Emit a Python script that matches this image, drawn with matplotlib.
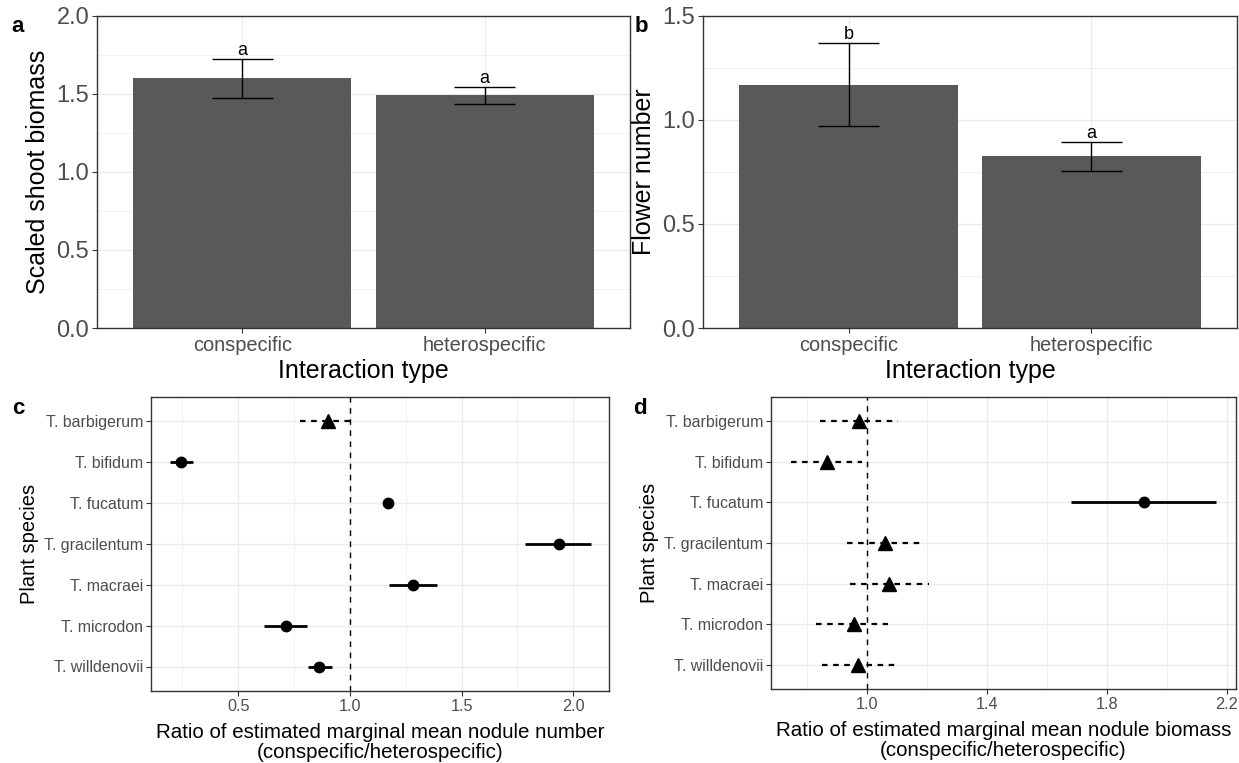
import matplotlib
matplotlib.use("Agg")
import matplotlib.pyplot as plt
import numpy as np

plt.rcParams["font.family"] = ["Liberation Sans", "DejaVu Sans"]

# bar panels (a, b)
interaction = ["conspecific", "heterospecific"]
shoot_mean = [1.60, 1.495]
shoot_lo = [1.472, 1.438]
shoot_hi = [1.726, 1.545]
shoot_letters = ["a", "a"]

flower_mean = [1.170, 0.828]
flower_lo = [0.971, 0.755]
flower_hi = [1.372, 0.896]
flower_letters = ["b", "a"]

# ratio panels (c, d)
species = ["T. barbigerum", "T. bifidum", "T. fucatum", "T. gracilentum",
           "T. macraei", "T. microdon", "T. willdenovii"]

number_ratio = [0.903, 0.243, 1.172, 1.936, 1.282, 0.713, 0.864]
number_lo = [0.775, 0.194, 1.150, 1.786, 1.175, 0.616, 0.813]
number_hi = [1.018, 0.296, 1.192, 2.080, 1.388, 0.807, 0.918]
number_sig = [False, True, True, True, True, True, True]

biomass_ratio = [0.974, 0.866, 1.924, 1.060, 1.074, 0.955, 0.971]
biomass_lo = [0.844, 0.748, 1.681, 0.932, 0.942, 0.829, 0.849]
biomass_hi = [1.103, 0.982, 2.164, 1.189, 1.206, 1.069, 1.092]
biomass_sig = [False, False, True, False, False, False, False]

W, H = 1239, 763
BORDER = "#333333"
TICKTXT = "#4D4D4D"
GRID = "#EBEBEB"

fig = plt.figure(figsize=(W / 100, H / 100), dpi=100)


def px_axes(left, top, right, bottom):
    return fig.add_axes([left / W, 1 - bottom / H, (right - left) / W, (bottom - top) / H])


def style_axes(ax, ytick_size, xtick_size):
    ax.set_axisbelow(True)
    for s in ax.spines.values():
        s.set_color(BORDER)
        s.set_linewidth(1.0)
    ax.tick_params(axis="both", which="major", length=3.5, width=0.8, color=BORDER,
                   labelcolor=TICKTXT, pad=2)
    ax.tick_params(axis="y", labelsize=ytick_size)
    ax.tick_params(axis="x", labelsize=xtick_size)
    ax.tick_params(which="minor", length=0)
    ax.grid(True, which="major", color=GRID, linewidth=1.0)
    ax.grid(True, which="minor", color=GRID, linewidth=0.5)


def bar_panel(ax, means, lo, hi, letters, ymax, ylabel):
    x = np.arange(1, len(means) + 1)
    ax.bar(x, means, width=0.9, color="#595959", zorder=2)
    ax.vlines(x, lo, hi, color="black", linewidth=1.0, zorder=3)
    ax.hlines(lo, x - 0.125, x + 0.125, color="black", linewidth=1.0, zorder=3)
    ax.hlines(hi, x - 0.125, x + 0.125, color="black", linewidth=1.0, zorder=3)
    for xi, h, lab in zip(x, hi, letters):
        ax.text(xi, h, lab, ha="center", va="bottom", fontsize=13, zorder=4)
    ax.set_xlim(0.4, len(means) + 0.6)
    ax.set_ylim(0, ymax)
    ax.set_xticks(x)
    ax.set_xticklabels(interaction)
    ax.set_yticks(np.arange(0, ymax + 0.01, 0.5))
    ax.set_yticks(np.arange(0.25, ymax, 0.5), minor=True)
    style_axes(ax, 17, 14.4)
    ax.set_ylabel(ylabel, fontsize=18, labelpad=5)
    ax.set_xlabel("Interaction type", fontsize=18, labelpad=3)


def ratio_panel(ax, ratio, lo, hi, sig, xlim, major, minor, xlabel):
    y = np.arange(len(species))
    for yi, r, l, h, s in zip(y, ratio, lo, hi, sig):
        if s:
            ax.plot([l, h], [yi, yi], color="black", linewidth=2.0, zorder=3,
                    solid_capstyle="butt")
            ax.plot(r, yi, marker="o", markersize=7.5, color="black", zorder=4)
        else:
            ax.plot([l, h], [yi, yi], color="black", linewidth=1.6, zorder=3,
                    linestyle=(0, (2.5, 2.5)))
            ax.plot(r, yi, marker="^", markersize=10, color="black", zorder=4)
    ax.axvline(1.0, color="black", linewidth=1.0, linestyle=(0, (4, 4)), zorder=2)
    ax.set_xlim(*xlim)
    ax.set_ylim(len(species) - 0.4, -0.6)
    ax.set_yticks(y)
    ax.set_yticklabels(species)
    ax.set_xticks(major)
    ax.set_xticks(minor, minor=True)
    style_axes(ax, 11.4, 11.7)
    ax.set_ylabel("Plant species", fontsize=14.5, labelpad=4)
    ax.set_xlabel(xlabel, fontsize=14.8, labelpad=7, linespacing=1.05)


ax_a = px_axes(97, 16, 630, 328)
bar_panel(ax_a, shoot_mean, shoot_lo, shoot_hi, shoot_letters, 2.0, "Scaled shoot biomass")
ax_a.set_yticklabels(["0.0", "0.5", "1.0", "1.5", "2.0"])

ax_b = px_axes(703, 16, 1237, 328)
bar_panel(ax_b, flower_mean, flower_lo, flower_hi, flower_letters, 1.5, "Flower number")
ax_b.set_yticklabels(["0.0", "0.5", "1.0", "1.5"])

ax_c = px_axes(151, 397, 609, 691)
ratio_panel(ax_c, number_ratio, number_lo, number_hi, number_sig, (0.11, 2.16),
            [0.5, 1.0, 1.5, 2.0], [0.25, 0.75, 1.25, 1.75],
            "Ratio of estimated marginal mean nodule number\n(conspecific/heterospecific)")

ax_d = px_axes(771, 397, 1236, 689)
ratio_panel(ax_d, biomass_ratio, biomass_lo, biomass_hi, biomass_sig, (0.68, 2.23),
            [1.0, 1.4, 1.8, 2.2], [0.8, 1.2, 1.6, 2.0],
            "Ratio of estimated marginal mean nodule biomass\n(conspecific/heterospecific)")

for lab, (px, py) in zip("abcd", [(18, 26), (641, 26), (18, 409), (640, 409)]):
    fig.text(px / W, 1 - py / H, lab, fontsize=16, fontweight="bold", ha="center", va="center")

fig.savefig("out.png", dpi=100, facecolor="white")
